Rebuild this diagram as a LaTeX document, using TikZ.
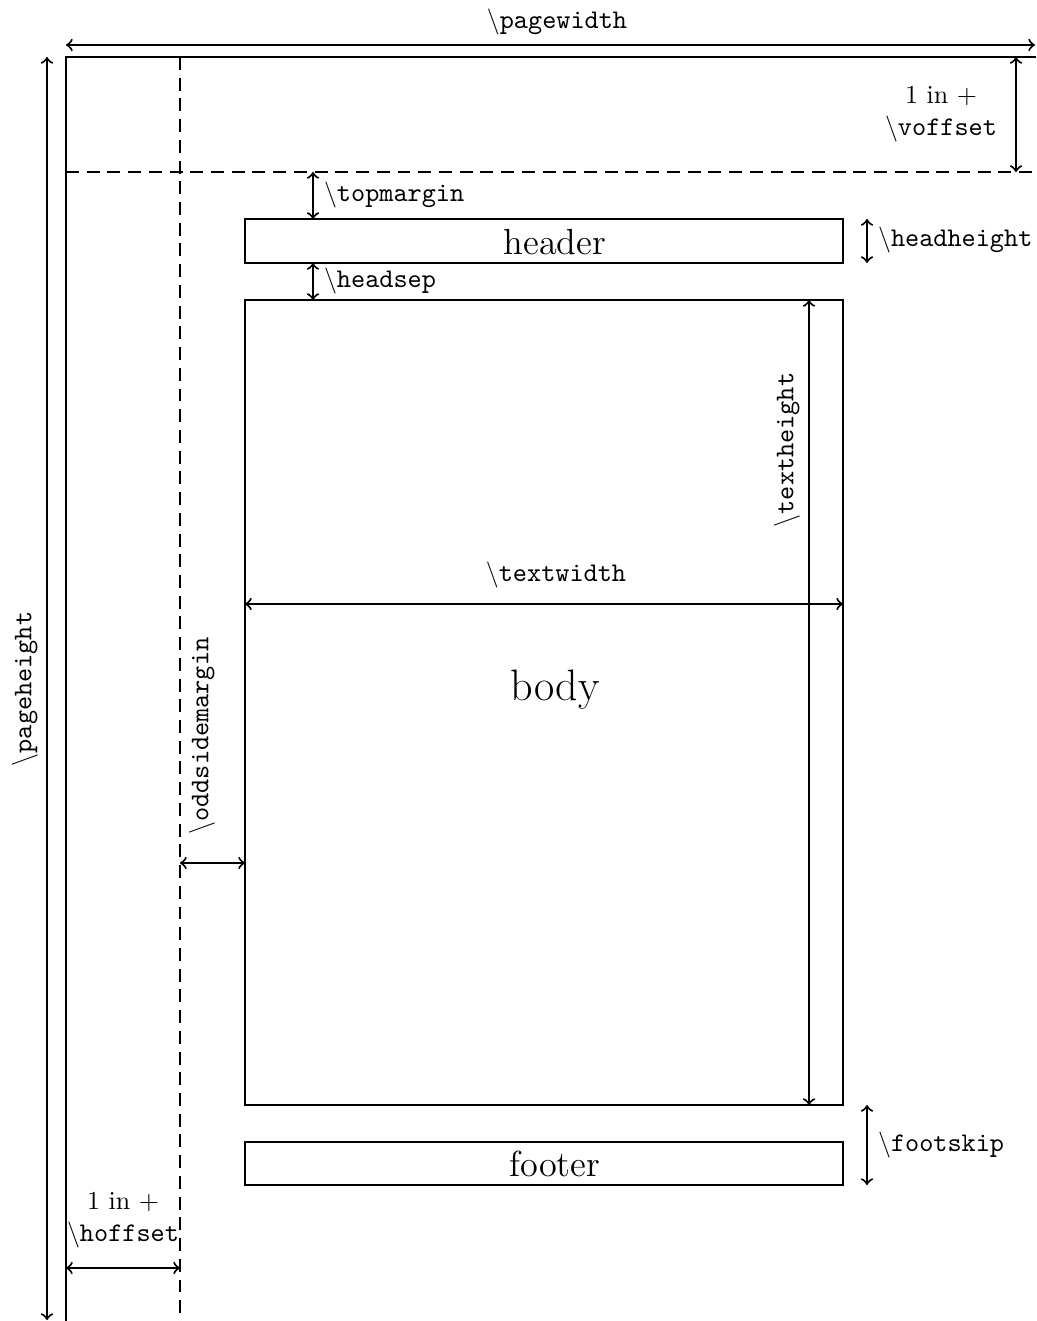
\documentclass[tikz,border=0pt]{standalone}
\usepackage{fontspec}
\newcommand{\cmdname}[1]{{\fontsize{10.4}{12.4}\selectfont\texttt{$\backslash$#1}}}
\begin{document}
\begin{tikzpicture}[x=0.3861pt,y=-0.3861pt, line width=0.8pt,
  dimline/.style={<->},
  dashline/.style={dash pattern=on 5pt off 3pt},
  lbl/.style={inner sep=0pt, font=\fontsize{10}{12.4}\selectfont},
  big/.style={inner sep=0pt, font=\fontsize{14}{16}\selectfont},
  bigger/.style={inner sep=0pt, font=\fontsize{17}{20}\selectfont}]
\useasboundingbox (0,0) rectangle (1036,1321);
% page frame
\coordinate (pTL) at (66,57);
\coordinate (pTR) at (1036,57);
\coordinate (pBL) at (66,1321);
\draw (pBL) -- (pTL) -- (pTR);
% dashed offset lines
\coordinate (vdT) at (180,57);
\coordinate (vdB) at (180,1321);
\coordinate (hdL) at (66,172);
\coordinate (hdR) at (1036,172);
\draw[dashline] (vdT) -- (vdB);
\draw[dashline] (hdL) -- (hdR);
% page width
\coordinate (pwL) at (66,45);
\coordinate (pwR) at (1035,45);
\draw[dimline] (pwL) -- (pwR);
\node[lbl] (pwlab) at (557,22) {\cmdname{pagewidth}};
% page height
\coordinate (phT) at (47,57);
\coordinate (phB) at (47,1320);
\draw[dimline] (phT) -- (phB);
\node[lbl, rotate=90] (phlab) at (25,689) {\cmdname{pageheight}};
% voffset
\coordinate (voT) at (1016,57);
\coordinate (voB) at (1016,172);
\draw[dimline] (voT) -- (voB);
\node[lbl, align=center] (volab) at (941,114) {1 in +\\\cmdname{voffset}};
% hoffset
\coordinate (hoL) at (66,1268);
\coordinate (hoR) at (180,1268);
\draw[dimline] (hoL) -- (hoR);
\node[lbl, align=center] (holab) at (123,1220) {1 in +\\\cmdname{hoffset}};
% header
\coordinate (hdNW) at (245,219);
\coordinate (hdSE) at (843,263);
\draw (hdNW) rectangle (hdSE);
\node[big] (hdlab) at (555,242) {header};
% body
\coordinate (bdNW) at (245,300);
\coordinate (bdSE) at (843,1105);
\draw (bdNW) rectangle (bdSE);
\node[bigger] (bdlab) at (555,690) {body};
% footer
\coordinate (ftNW) at (245,1142);
\coordinate (ftSE) at (843,1185);
\draw (ftNW) rectangle (ftSE);
\node[big] (ftlab) at (555,1164) {footer};
% topmargin
\coordinate (tmT) at (313,172);
\coordinate (tmB) at (313,219);
\draw[dimline] (tmT) -- (tmB);
\node[lbl, anchor=west] (tmlab) at (323,195) {\cmdname{topmargin}};
% headsep
\coordinate (hsT) at (313,263);
\coordinate (hsB) at (313,300);
\draw[dimline] (hsT) -- (hsB);
\node[lbl, anchor=west] (hslab) at (323,281) {\cmdname{headsep}};
% headheight
\coordinate (hhT) at (867,219);
\coordinate (hhB) at (867,263);
\draw[dimline] (hhT) -- (hhB);
\node[lbl, anchor=west] (hhlab) at (877,240) {\cmdname{headheight}};
% textheight
\coordinate (thT) at (809,300);
\coordinate (thB) at (809,1105);
\draw[dimline] (thT) -- (thB);
\node[lbl, rotate=90] (thlab) at (787,450) {\cmdname{textheight}};
% textwidth
\coordinate (twL) at (245,604);
\coordinate (twR) at (843,604);
\draw[dimline] (twL) -- (twR);
\node[lbl] (twlab) at (556,575) {\cmdname{textwidth}};
% oddsidemargin
\coordinate (osL) at (180,863);
\coordinate (osR) at (245,863);
\draw[dimline] (osL) -- (osR);
\node[lbl, rotate=90] (oslab) at (202,736) {\cmdname{oddsidemargin}};
% footskip
\coordinate (fsT) at (867,1105);
\coordinate (fsB) at (867,1185);
\draw[dimline] (fsT) -- (fsB);
\node[lbl, anchor=west] (fslab) at (877,1145) {\cmdname{footskip}};
\end{tikzpicture}
\end{document}
